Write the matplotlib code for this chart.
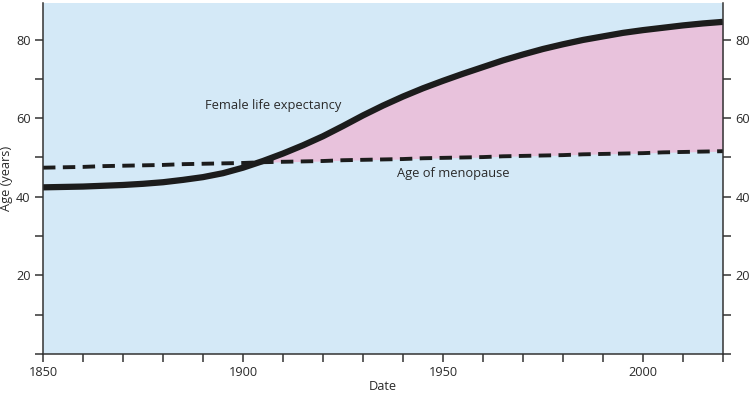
import matplotlib
matplotlib.use("Agg")
import matplotlib.pyplot as plt
from matplotlib.ticker import MultipleLocator

plt.rcParams['font.family'] = ['Open Sans', 'DejaVu Sans']

# data
years = [1850, 1855, 1860, 1865, 1870, 1875, 1880, 1885, 1890, 1895,
         1900, 1905, 1910, 1915, 1920, 1925, 1930, 1935, 1940, 1945,
         1950, 1955, 1960, 1965, 1970, 1975, 1980, 1985, 1990, 1995,
         2000, 2005, 2010, 2015, 2020]
life_expectancy = [42.4, 42.5, 42.6, 42.8, 43.0, 43.3, 43.7, 44.3, 45.0, 46.0,
                   47.4, 49.1, 51.0, 53.1, 55.4, 58.0, 60.7, 63.2, 65.5, 67.6,
                   69.5, 71.3, 73.0, 74.7, 76.2, 77.6, 78.8, 79.9, 80.8, 81.7,
                   82.4, 83.0, 83.6, 84.1, 84.5]
menopause_age = [47.4, 47.5, 47.6, 47.8, 47.9, 48.0, 48.1, 48.3, 48.4, 48.5,
                 48.6, 48.8, 48.9, 49.0, 49.1, 49.3, 49.4, 49.5, 49.6, 49.8,
                 49.9, 50.0, 50.1, 50.3, 50.4, 50.5, 50.6, 50.8, 50.9, 51.0,
                 51.1, 51.3, 51.4, 51.5, 51.6]

ink = '#1c1c1c'
spine_col = '#333333'
text_col = '#2a2a2a'

fig = plt.figure(figsize=(7.51, 3.95), dpi=100)
ax = fig.add_axes([43 / 751, 1 - 354 / 395, 680 / 751, 351 / 395])
ax.set_facecolor('#d4e9f7')

# pink gap between lifespan and menopause
ax.fill_between(years, menopause_age, life_expectancy,
                where=[l > m for l, m in zip(life_expectancy, menopause_age)],
                interpolate=True, color='#e8c2dc', lw=0)

ax.plot(years, menopause_age, color=ink, lw=2.8, ls=(0, (3.2, 1.9)))
ax.plot(years, life_expectancy, color=ink, lw=4.5, solid_capstyle='butt',
        solid_joinstyle='round')

ax.set_xlim(1850, 2020)
ax.set_ylim(0, 89.3)

ax.xaxis.set_major_locator(MultipleLocator(50))
ax.xaxis.set_minor_locator(MultipleLocator(10))
ax.yaxis.set_minor_locator(MultipleLocator(10))
ax.set_yticks([20, 40, 60, 80])

ax.tick_params(which='both', direction='out', length=6, width=1.1,
               color=spine_col, labelsize=9.2, labelcolor=text_col, pad=3,
               left=True, right=True, labelleft=True, labelright=True)

for side in ['left', 'bottom', 'right']:
    ax.spines[side].set_color(spine_col)
    ax.spines[side].set_linewidth(1.1)
ax.spines['top'].set_visible(False)

ax.set_xlabel('Date', fontsize=9.2, color=text_col, labelpad=0)
ax.set_ylabel('Age (years)', fontsize=9.2, color=text_col, labelpad=2)

ax.text(1890.6, 63.2, 'Female life expectancy', fontsize=9.3, color=text_col,
        ha='left', va='center')
ax.text(1938.6, 46.0, 'Age of menopause', fontsize=9.3, color=text_col,
        ha='left', va='center')

fig.savefig('out.png', dpi=100)
